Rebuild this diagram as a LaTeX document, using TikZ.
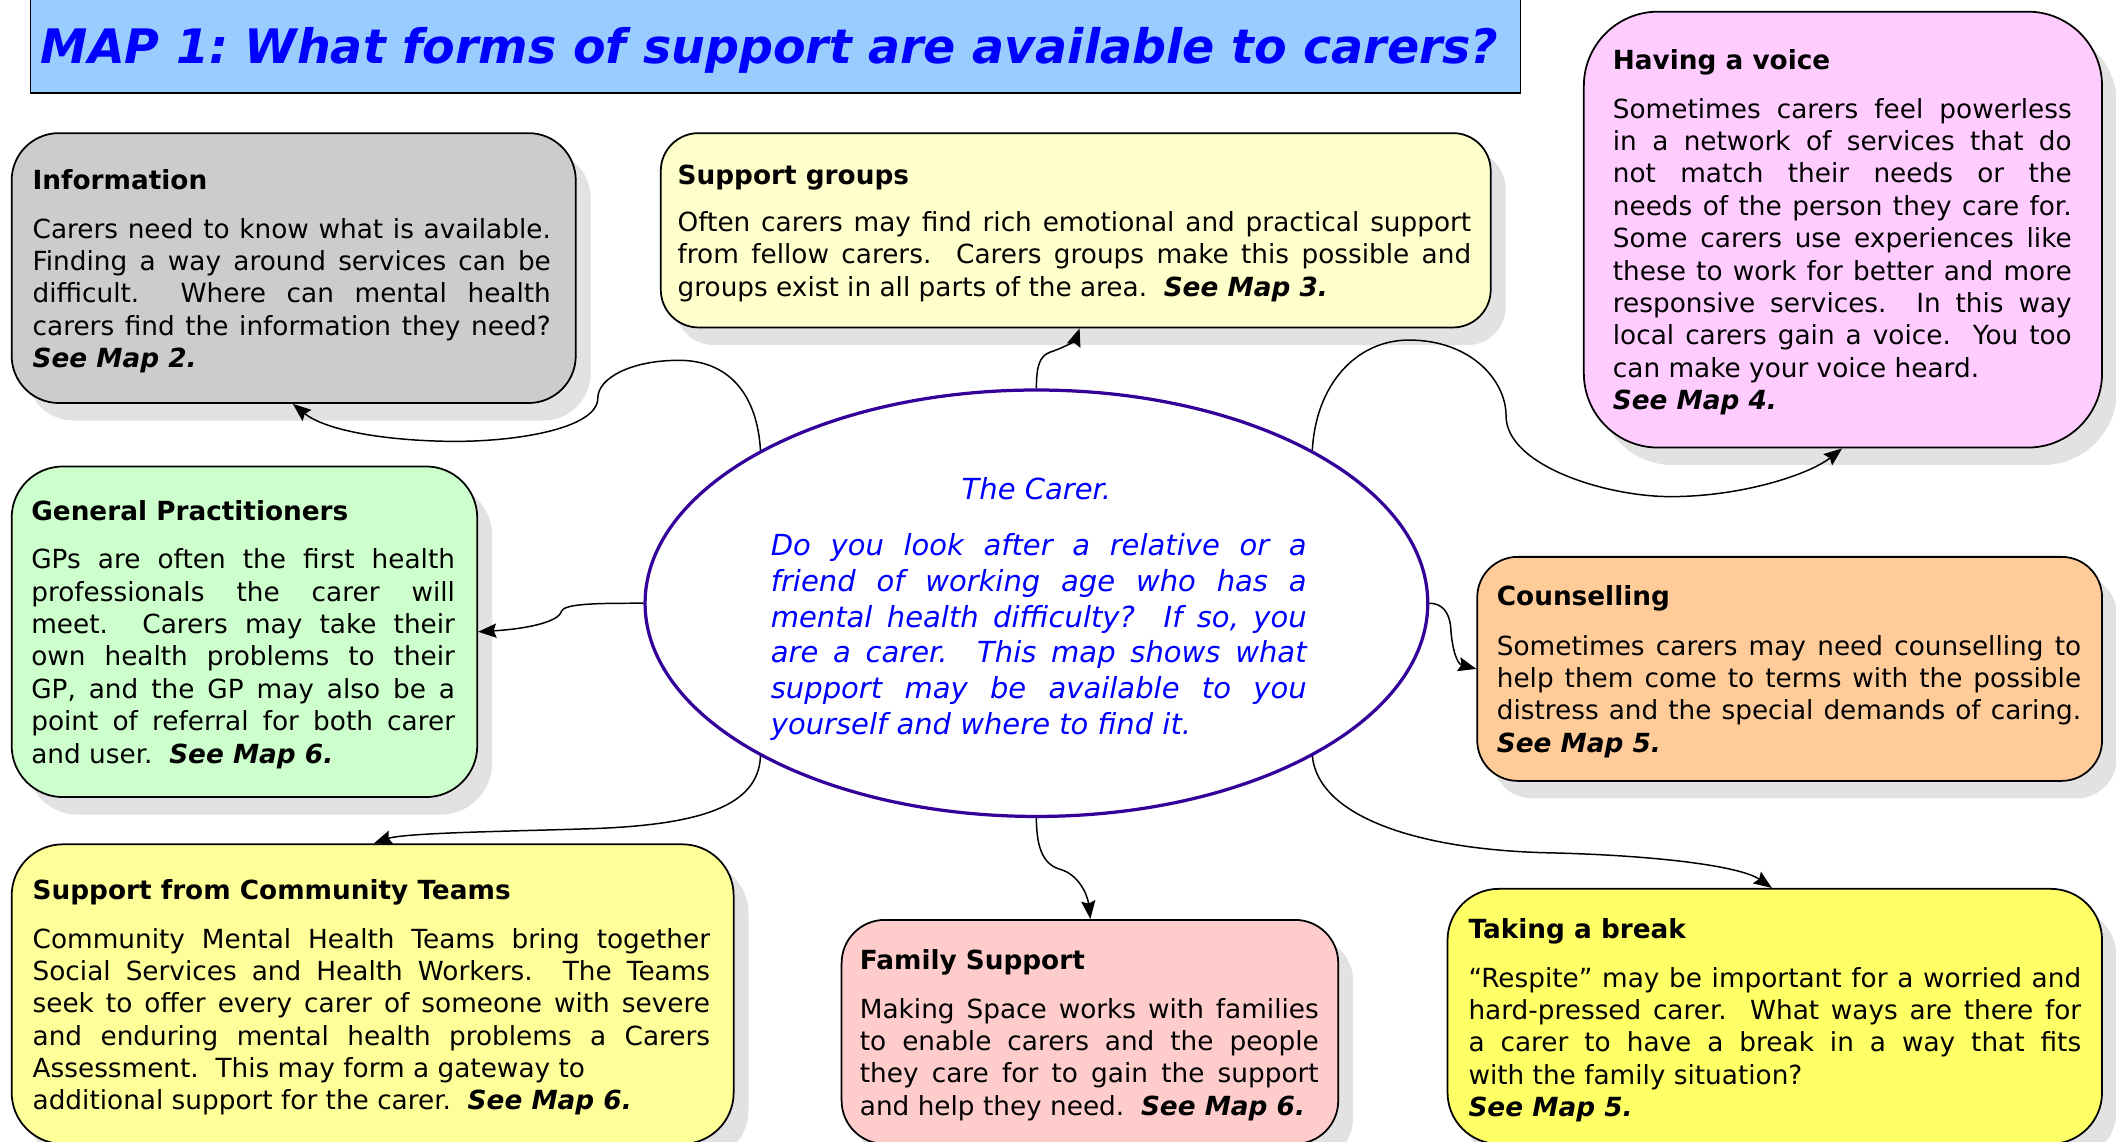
\documentclass[tikz,border=0pt]{standalone}
\usepackage{fontspec}
\setmainfont{DejaVu Sans}
\usetikzlibrary{arrows.meta,shapes.geometric,shadows}
\frenchspacing
\definecolor{titlefill}{HTML}{99CCFF}
\definecolor{infofill}{HTML}{CCCCCC}
\definecolor{sgfill}{HTML}{FFFFCC}
\definecolor{voicefill}{HTML}{FFCCFF}
\definecolor{gpfill}{HTML}{CCFFCC}
\definecolor{counsfill}{HTML}{FFCC99}
\definecolor{commfill}{HTML}{FFFF99}
\definecolor{famfill}{HTML}{FFCCCC}
\definecolor{brkfill}{HTML}{FFFF66}
\definecolor{shadowgrey}{HTML}{E2E2E2}
\definecolor{ellstroke}{HTML}{330099}
\definecolor{mapblue}{HTML}{0000FF}
\newcommand\cardbody{\fontsize{19.5pt}{24pt}\selectfont\frenchspacing}
\newcommand\cardtitle{\fontsize{19.5pt}{24pt}\selectfont\bfseries}
\newcommand\carerfont{\fontsize{21.5pt}{26.4pt}\selectfont\itshape\color{mapblue}\frenchspacing}
\newlength\LW
\newcommand\Js[1]{\hbox{\makebox[\LW][s]{#1}}}
\newcommand\Jl[1]{\hbox{#1}}
\newcommand\Para[3]{\setlength\LW{#1}\vtop{\baselineskip=#2\relax #3}}
\newcommand\SeeMap[1]{\textbf{\textit{See Map #1.}}}
\tikzset{
  card/.style={draw=black, line width=1.3pt, rounded corners=#1, inner sep=0pt, anchor=north west,
    drop shadow={shadow xshift=11pt, shadow yshift=-13pt, fill=shadowgrey, opacity=1}},
  conn/.style={draw=black, line width=1.1pt, -{Stealth[length=13.5pt,width=10.5pt,inset=2pt]}},
  ttl/.style={anchor=base west, inner sep=0pt, font=\cardtitle},
  txt/.style={anchor=base west, inner sep=0pt, font=\cardbody},
}
\begin{document}
\begin{tikzpicture}[x=1pt,y=-1pt]
\useasboundingbox (0,0) rectangle (1568,846);

% title
\node[draw=black, line width=1.3pt, fill=titlefill, anchor=north west, minimum width=1104pt, minimum height=75pt, inner sep=0pt] (titlebox) at (22,-7) {};
\node[anchor=base west, inner sep=0pt, font=\fontsize{35.2pt}{40pt}\selectfont\bfseries\itshape\frenchspacing, text=mapblue] (titletext) at (30,47) {MAP 1: What forms of support are available to carers?};

% cards
\node[card=35, fill=infofill, minimum width=418pt, minimum height=200pt] (info) at (8,98) {};
\node[card=28, fill=sgfill, minimum width=615pt, minimum height=144pt] (sg) at (489,98) {};
\node[card=55, fill=voicefill, minimum width=384pt, minimum height=323pt] (voice) at (1173,8) {};
\node[card=38, fill=gpfill, minimum width=345pt, minimum height=245pt] (gp) at (8,345) {};
\node[card=30, fill=counsfill, minimum width=463pt, minimum height=166pt] (couns) at (1094,412) {};
\node[card=38, fill=commfill, minimum width=535pt, minimum height=222pt] (comm) at (8,625) {};
\node[card=32, fill=famfill, minimum width=368pt, minimum height=166pt] (fam) at (623,681) {};
\node[card=38, fill=brkfill, minimum width=485pt, minimum height=189pt] (brk) at (1072,658) {};

% carer ellipse
\node[ellipse, draw=ellstroke, line width=2.4pt, fill=white, minimum width=580pt, minimum height=316pt, inner sep=0pt] (carer) at (768,447) {};

% texts
\node[ttl] (infoT) at (24,140.5) {Information};
\node[txt] (infoB) at (24,176.5) {\Para{384pt}{24pt}{%
\Js{Carers need to know what is available.}
\Js{Finding a way around services can be}
\Js{difficult.\ \ Where can mental health}
\Js{carers find the information they need?}
\Jl{\SeeMap{2}}}};

\node[ttl] (sgT) at (502,136.5) {Support groups};
\node[txt] (sgB) at (502,171.5) {\Para{588pt}{24pt}{%
\Js{Often carers may find rich emotional and practical support}
\Js{from fellow carers.\ \ Carers groups make this possible and}
\Jl{groups exist in all parts of the area.\ \ \SeeMap{3}}}};

\node[ttl] (voiceT) at (1195,51.5) {Having a voice};
\node[txt] (voiceB) at (1195,87.5) {\Para{340pt}{24pt}{%
\Js{Sometimes carers feel powerless}
\Js{in a network of services that do}
\Js{not match their needs or the}
\Js{needs of the person they care for.}
\Js{Some carers use experiences like}
\Js{these to work for better and more}
\Js{responsive services.\ \ In this way}
\Js{local carers gain a voice.\ \ You too}
\Jl{can make your voice heard.}
\Jl{\SeeMap{4}}}};

\node[ttl] (gpT) at (23,385.5) {General Practitioners};
\node[txt] (gpB) at (23,421.5) {\Para{314pt}{24pt}{%
\Js{GPs are often the first health}
\Js{professionals the carer will}
\Js{meet.\ \ Carers may take their}
\Js{own health problems to their}
\Js{GP, and the GP may also be a}
\Js{point of referral for both carer}
\Jl{and user.\ \ \SeeMap{6}}}};

\node[ttl] (counsT) at (1109,448.5) {Counselling};
\node[txt] (counsB) at (1109,485.5) {\Para{433pt}{24pt}{%
\Js{Sometimes carers may need counselling to}
\Js{help them come to terms with the possible}
\Js{distress and the special demands of caring.}
\Jl{\SeeMap{5}}}};

\node[ttl] (commT) at (24,666.5) {Support from Community Teams};
\node[txt] (commB) at (24,702.5) {\Para{502pt}{24pt}{%
\Js{Community Mental Health Teams bring together}
\Js{Social Services and Health Workers.\ \ The Teams}
\Js{seek to offer every carer of someone with severe}
\Js{and enduring mental health problems a Carers}
\Jl{Assessment.\ \ This may form a gateway to}
\Jl{additional support for the carer.\ \ \SeeMap{6}}}};

\node[ttl] (famT) at (637,718.5) {Family Support};
\node[txt] (famB) at (637,754.5) {\Para{340pt}{24pt}{%
\Js{Making Space works with families}
\Js{to enable carers and the people}
\Js{they care for to gain the support}
\Jl{and help they need.\ \ \SeeMap{6}}}};

\node[ttl] (brkT) at (1088,695.5) {Taking a break};
\node[txt] (brkB) at (1088,731.5) {\Para{454pt}{24pt}{%
\Js{“Respite” may be important for a worried and}
\Js{hard-pressed carer.\ \ What ways are there for}
\Js{a carer to have a break in a way that fits}
\Jl{with the family situation?}
\Jl{\SeeMap{5}}}};

\node[anchor=base, inner sep=0pt, font=\carerfont] (carerT) at (768,370) {The Carer.};
\node[anchor=base west, inner sep=0pt, font=\carerfont] (carerB) at (571,412) {\Para{397pt}{26.4pt}{%
\Js{Do you look after a relative or a}
\Js{friend of working age who has a}
\Js{mental health difficulty?\ \ If so, you}
\Js{are a carer.\ \ This map shows what}
\Js{support may be available to you}
\Jl{yourself and where to find it.}}};

% connectors
\draw[conn] (carer.151) .. controls (561,292) and (540,267) .. (503,267)
  .. controls (468,267) and (443,280) .. (443,295)
  .. controls (443,318) and (380,328) .. (330,327)
  .. controls (280,326) and (240,318) .. ([xshift=209pt]info.south west);
\draw[conn] (carer.north) .. controls (768,272) and (770,264) .. (778,261)
  .. controls (790,257) and (797,252) .. ([xshift=311pt]sg.south west);
\draw[conn] (carer.29) .. controls (975,285) and (1005,252) .. (1044,252)
  .. controls (1090,252) and (1116,282) .. (1116,308)
  .. controls (1116,345) and (1190,368) .. (1238,368)
  .. controls (1290,368) and (1340,352) .. ([xshift=192pt]voice.south west);
\draw[conn] (carer.west) .. controls (445,447) and (418,447) .. (416,453)
  .. controls (414,461) and (390,466) .. (gp.east);
\draw[conn] (carer.east) .. controls (1068,447) and (1074,453) .. (1075,465)
  .. controls (1076,482) and (1080,492) .. (couns.west);
\draw[conn] (carer.209) .. controls (562,597) and (520,611) .. (440,614)
  .. controls (380,616) and (300,617) .. ([xshift=269pt]comm.north west);
\draw[conn] (carer.south) .. controls (768,626) and (772,640) .. (785,644)
  .. controls (800,648) and (806,664) .. ([xshift=185pt]fam.north west);
\draw[conn] (carer.331) .. controls (977,605) and (1050,630) .. (1150,632)
  .. controls (1230,634) and (1290,642) .. ([xshift=241pt]brk.north west);
\end{tikzpicture}
\end{document}
